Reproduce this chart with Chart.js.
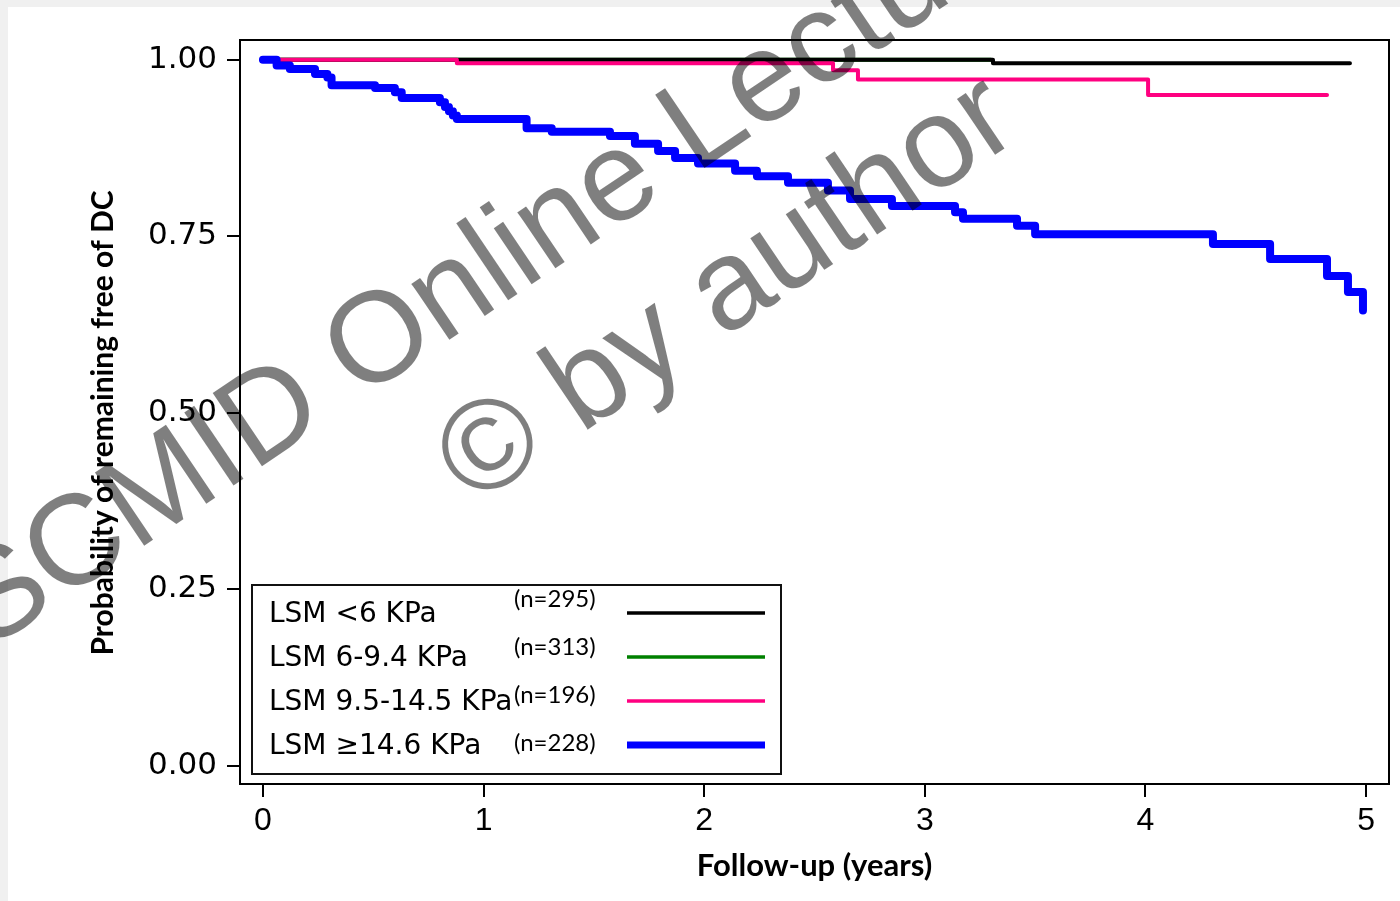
<!DOCTYPE html>
<html>
<head>
<meta charset="utf-8">
<script src="https://cdn.jsdelivr.net/npm/chart.js@4.4.1/dist/chart.umd.min.js"></script>
<style>
  html, body { margin: 0; padding: 0; background: #f0f0f0; }
  #chart { display: block; }
</style>
</head>
<body>
<canvas id="chart" width="1400" height="901"></canvas>
<script>
// axis ticks
const xTicks = [0, 1, 2, 3, 4, 5];
const yTicks = [0, 0.25, 0.5, 0.75, 1];

// groups, in legend order
const groupLabels = ["LSM <6 KPa", "LSM 6-9.4 KPa", "LSM 9.5-14.5 KPa", "LSM \u226514.6 KPa"];
const groupCounts = ["(n=295)", "(n=313)", "(n=196)", "(n=228)"];
const groupColors = ["#000000", "#008000", "#ff0080", "#0000ff"];

// Kaplan-Meier steps (time in years, survival after the drop)
const blackT = [0, 3.309, 4.927];
const blackS = [1, 0.995, 0.995];

const greenT = [0, 3.3];
const greenS = [1, 1];

const pinkT = [0, 0.879, 2.584, 2.697, 4.012, 4.823];
const pinkS = [1, 0.995, 0.985, 0.972, 0.950, 0.950];

const blueT = [0, 0.062, 0.122, 0.236, 0.292, 0.311, 0.508, 0.598, 0.629, 0.802, 0.825, 0.843,
  0.861, 0.879, 1.195, 1.309, 1.573, 1.686, 1.791, 1.868, 1.972, 2.140, 2.239, 2.380, 2.561,
  2.661, 2.851, 3.137, 3.173, 3.418, 3.500, 4.306, 4.565, 4.823, 4.918, 4.986];
const blueS = [1, 0.992, 0.987, 0.980, 0.975, 0.964, 0.960, 0.954, 0.946, 0.940, 0.933, 0.927,
  0.921, 0.916, 0.903, 0.898, 0.892, 0.881, 0.871, 0.861, 0.853, 0.843, 0.835, 0.826, 0.815,
  0.803, 0.793, 0.784, 0.775, 0.765, 0.753, 0.739, 0.718, 0.694, 0.671, 0.645];

const watermarkLines = ["SCMID Online Lecture", "\u00a9 by author"];

function toPoints(ts, ss) {
  return ts.map((t, i) => ({ x: t, y: ss[i] }));
}

const seriesT = [blackT, greenT, pinkT, blueT];
const seriesS = [blackS, greenS, pinkS, blueS];
const lineWidths = [4, 4, 4, 8];
const drawOrder = [2, 3, 1, 0]; // blue on top, then pink, black, green

const datasets = groupLabels.map((label, i) => ({
  label: label,
  data: toPoints(seriesT[i], seriesS[i]),
  borderColor: groupColors[i],
  borderWidth: lineWidths[i],
  stepped: "before",
  pointRadius: 0,
  borderCapStyle: "round",
  borderJoinStyle: "round",
  fill: false,
  order: drawOrder[i],
}));

const extras = {
  id: "extras",
  beforeDraw(chart) {
    const c = chart.ctx;
    c.save();
    c.fillStyle = "#f0f0f0";
    c.fillRect(0, 0, chart.width, chart.height);
    c.fillStyle = "#ffffff";
    c.fillRect(8, 7, chart.width - 8, chart.height - 7);
    c.restore();
  },
  afterDraw(chart) {
    const c = chart.ctx;
    const a = chart.chartArea;
    c.save();

    // plot frame
    c.strokeStyle = "#000";
    c.lineWidth = 2;
    c.strokeRect(a.left, a.top, a.right - a.left, a.bottom - a.top);

    // legend box
    const bx = a.left + 12;
    const by = a.bottom - 199;
    c.fillStyle = "#fff";
    c.fillRect(bx, by, 529, 189);
    c.strokeStyle = "#111";
    c.lineWidth = 2;
    c.strokeRect(bx, by, 529, 189);
    c.textBaseline = "middle";
    c.textAlign = "left";
    groupLabels.forEach((label, i) => {
      c.fillStyle = "#000";
      c.font = "28px 'DejaVu Sans'";
      c.fillText(label, bx + 17, by + 30 + 44 * i);
      c.font = "24px Lato";
      c.fillText(groupCounts[i], bx + 262, by + 14 + 48 * i);
      c.strokeStyle = groupColors[i];
      c.lineWidth = i === 3 ? 7 : 3.5;
      c.beginPath();
      c.moveTo(bx + 375, by + 28 + 44 * i);
      c.lineTo(bx + 513, by + 28 + 44 * i);
      c.stroke();
    });

    // watermark
    c.fillStyle = "rgba(0,0,0,0.5)";
    c.font = "128px 'Liberation Sans'";
    c.textBaseline = "alphabetic";
    const origins = [[-12, 651], [473, 507]];
    watermarkLines.forEach((txt, i) => {
      c.save();
      c.translate(origins[i][0], origins[i][1]);
      c.rotate(-34 * Math.PI / 180);
      c.fillText(txt, 0, 0);
      c.restore();
    });

    c.restore();
  },
};

const chart = new Chart(document.getElementById("chart"), {
  type: "line",
  data: { datasets: datasets },
  options: {
    responsive: false,
    animation: false,
    layout: { padding: { top: 40, right: 11, left: 0, bottom: 0 } },
    scales: {
      x: {
        type: "linear",
        min: -0.104,
        max: 5.104,
        afterFit(scale) { scale.height = 117; },
        afterBuildTicks(scale) { scale.ticks = xTicks.map(v => ({ value: v })); },
        border: { display: false },
        grid: { drawOnChartArea: false, drawTicks: true, tickLength: 13, color: "#000", lineWidth: 2 },
        ticks: {
          color: "#000",
          padding: 5,
          maxRotation: 0,
          font: { family: "'Liberation Sans'", size: 32 },
          callback: v => String(v),
        },
        title: {
          display: true,
          text: "Follow-up (years)",
          color: "#000",
          font: { family: "Lato", size: 31, weight: "bold" },
          padding: { top: 0, bottom: 16 },
        },
      },
      y: {
        min: -0.0255,
        max: 1.028,
        afterFit(scale) { scale.width = 240; },
        afterBuildTicks(scale) { scale.ticks = yTicks.map(v => ({ value: v })); },
        border: { display: false },
        grid: { drawOnChartArea: false, drawTicks: true, tickLength: 13, color: "#000", lineWidth: 2 },
        ticks: {
          color: "#000",
          padding: 10,
          font: { family: "'DejaVu Sans'", size: 31 },
          callback: v => Number(v).toFixed(2),
        },
        title: {
          display: true,
          // trailing spaces nudge the rotated title a little lower, as in the original
          text: "Probability of remaining free of DC\u00a0\u00a0\u00a0",
          color: "#000",
          font: { family: "Lato", size: 30, weight: "bold" },
          padding: { top: 85, bottom: 0 },
        },
      },
    },
    plugins: {
      legend: { display: false },
      tooltip: { enabled: false },
    },
  },
  plugins: [extras],
});
</script>
</body>
</html>
